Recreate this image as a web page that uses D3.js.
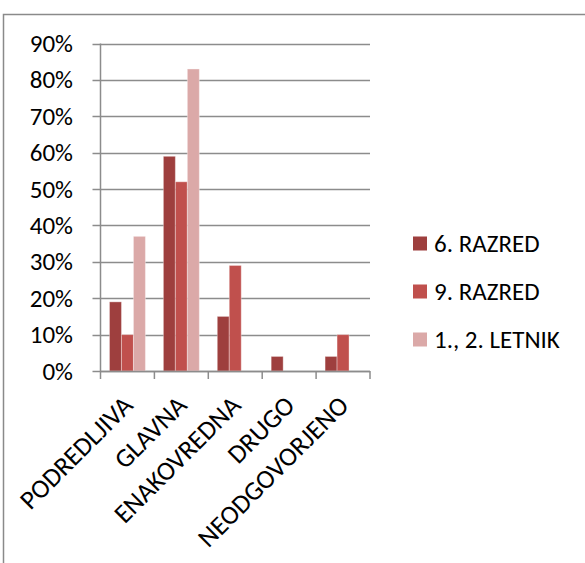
<!DOCTYPE html>
<html>
<head>
<meta charset="utf-8">
<script src="https://cdn.jsdelivr.net/npm/d3@7/dist/d3.min.js"></script>
<style>
  html, body { margin: 0; padding: 0; background: #fff; }
  svg { display: block; }
  text { font-family: Carlito, Calibri, Lato, "Noto Sans", sans-serif; fill: #000; }
</style>
</head>
<body>
<svg id="chart" width="585" height="563"></svg>
<script>
// Answer categories along the x axis
const categories = ["PODREDLJIVA", "GLAVNA", "ENAKOVREDNA", "DRUGO", "NEODGOVORJENO"];
// Survey groups (series)
const seriesNames = ["6. RAZRED", "9. RAZRED", "1., 2. LETNIK"];
// Shares in percent, one array per group, in category order
const razred6 = [19, 59, 15, 4, 4];
const razred9 = [10, 52, 29, 0, 10];
const letnik12 = [37, 83, 0, 0, 0];
// Y axis ticks
const yTicks = [0, 10, 20, 30, 40, 50, 60, 70, 80, 90];

const seriesValues = [razred6, razred9, letnik12];
const colors = ["#9e3f3e", "#c0504d", "#dba9a8"];
const fontSize = 25;

const svg = d3.select("#chart");

// Outer chart frame (top and left edges are visible)
svg.append("path")
  .attr("d", "M3.5,563 V14.5 H585")
  .attr("fill", "none")
  .attr("stroke", "#8a8a8a")
  .attr("stroke-width", 1.5);

const plot = { left: 100.5, right: 370, top: 43.5, bottom: 371 };

const x0 = d3.scaleBand()
  .domain(categories)
  .range([plot.left, plot.right])
  .paddingInner(0)
  .paddingOuter(0);

const x1 = d3.scaleBand()
  .domain(d3.range(seriesNames.length))
  .range([0, x0.bandwidth()])
  .paddingOuter(0.75)
  .paddingInner(0);

const y = d3.scaleLinear()
  .domain([0, 90])
  .range([plot.bottom, plot.top]);

const gridColor = "#8c8c8c";

// Horizontal gridlines with left-side tick stubs
svg.append("g")
  .selectAll("line")
  .data(yTicks)
  .join("line")
  .attr("x1", plot.left - 8)
  .attr("x2", plot.right)
  .attr("y1", d => Math.round(y(d)) + 0.5)
  .attr("y2", d => Math.round(y(d)) + 0.5)
  .attr("stroke", gridColor)
  .attr("stroke-width", 1.5);

// Y axis labels
svg.append("g")
  .selectAll("text")
  .data(yTicks)
  .join("text")
  .attr("x", 73)
  .attr("y", d => y(d))
  .attr("dy", "0.34em")
  .attr("text-anchor", "end")
  .attr("font-size", fontSize)
  .text(d => d + "%");

// Bars
const groups = svg.append("g")
  .selectAll("g")
  .data(categories)
  .join("g")
  .attr("transform", c => `translate(${x0(c)},0)`);

groups.selectAll("rect")
  .data((c, i) => seriesValues.map((vals, s) => ({ s, v: vals[i] })))
  .join("rect")
  .filter(d => d.v > 0)
  .attr("x", d => x1(d.s))
  .attr("width", x1.bandwidth())
  .attr("y", d => y(d.v))
  .attr("height", d => plot.bottom - y(d.v))
  .attr("fill", d => colors[d.s])
  .attr("stroke", "#ffffff")
  .attr("stroke-opacity", 0.35)
  .attr("stroke-width", 1);

// Y axis line
svg.append("line")
  .attr("x1", plot.left).attr("x2", plot.left)
  .attr("y1", plot.top).attr("y2", plot.bottom)
  .attr("stroke", gridColor)
  .attr("stroke-width", 1.5);

// X axis line and category tick marks
svg.append("line")
  .attr("x1", plot.left).attr("x2", plot.right)
  .attr("y1", plot.bottom + 0.5).attr("y2", plot.bottom + 0.5)
  .attr("stroke", gridColor)
  .attr("stroke-width", 1.5);

const tickXs = categories.map(c => x0(c)).concat([plot.right]);
svg.append("g")
  .selectAll("line")
  .data(tickXs)
  .join("line")
  .attr("x1", d => d).attr("x2", d => d)
  .attr("y1", plot.bottom).attr("y2", plot.bottom + 8)
  .attr("stroke", gridColor)
  .attr("stroke-width", 1.5);

// Rotated category labels
svg.append("g")
  .selectAll("text")
  .data(categories)
  .join("text")
  .attr("transform", c => `translate(${x0(c) + x0.bandwidth() / 2 + 7},${plot.bottom + 36}) rotate(-45)`)
  .attr("text-anchor", "end")
  .attr("font-size", 26.5)
  .text(c => c);

// Legend
const legend = svg.append("g")
  .selectAll("g")
  .data(seriesNames)
  .join("g")
  .attr("transform", (d, i) => `translate(413,${243.5 + i * 48})`);

legend.append("rect")
  .attr("x", 0).attr("y", -7)
  .attr("width", 14).attr("height", 14)
  .attr("fill", (d, i) => colors[i]);

legend.append("text")
  .attr("x", 21)
  .attr("y", 0)
  .attr("dy", "0.34em")
  .attr("font-size", fontSize)
  .text(d => d);
</script>
</body>
</html>
